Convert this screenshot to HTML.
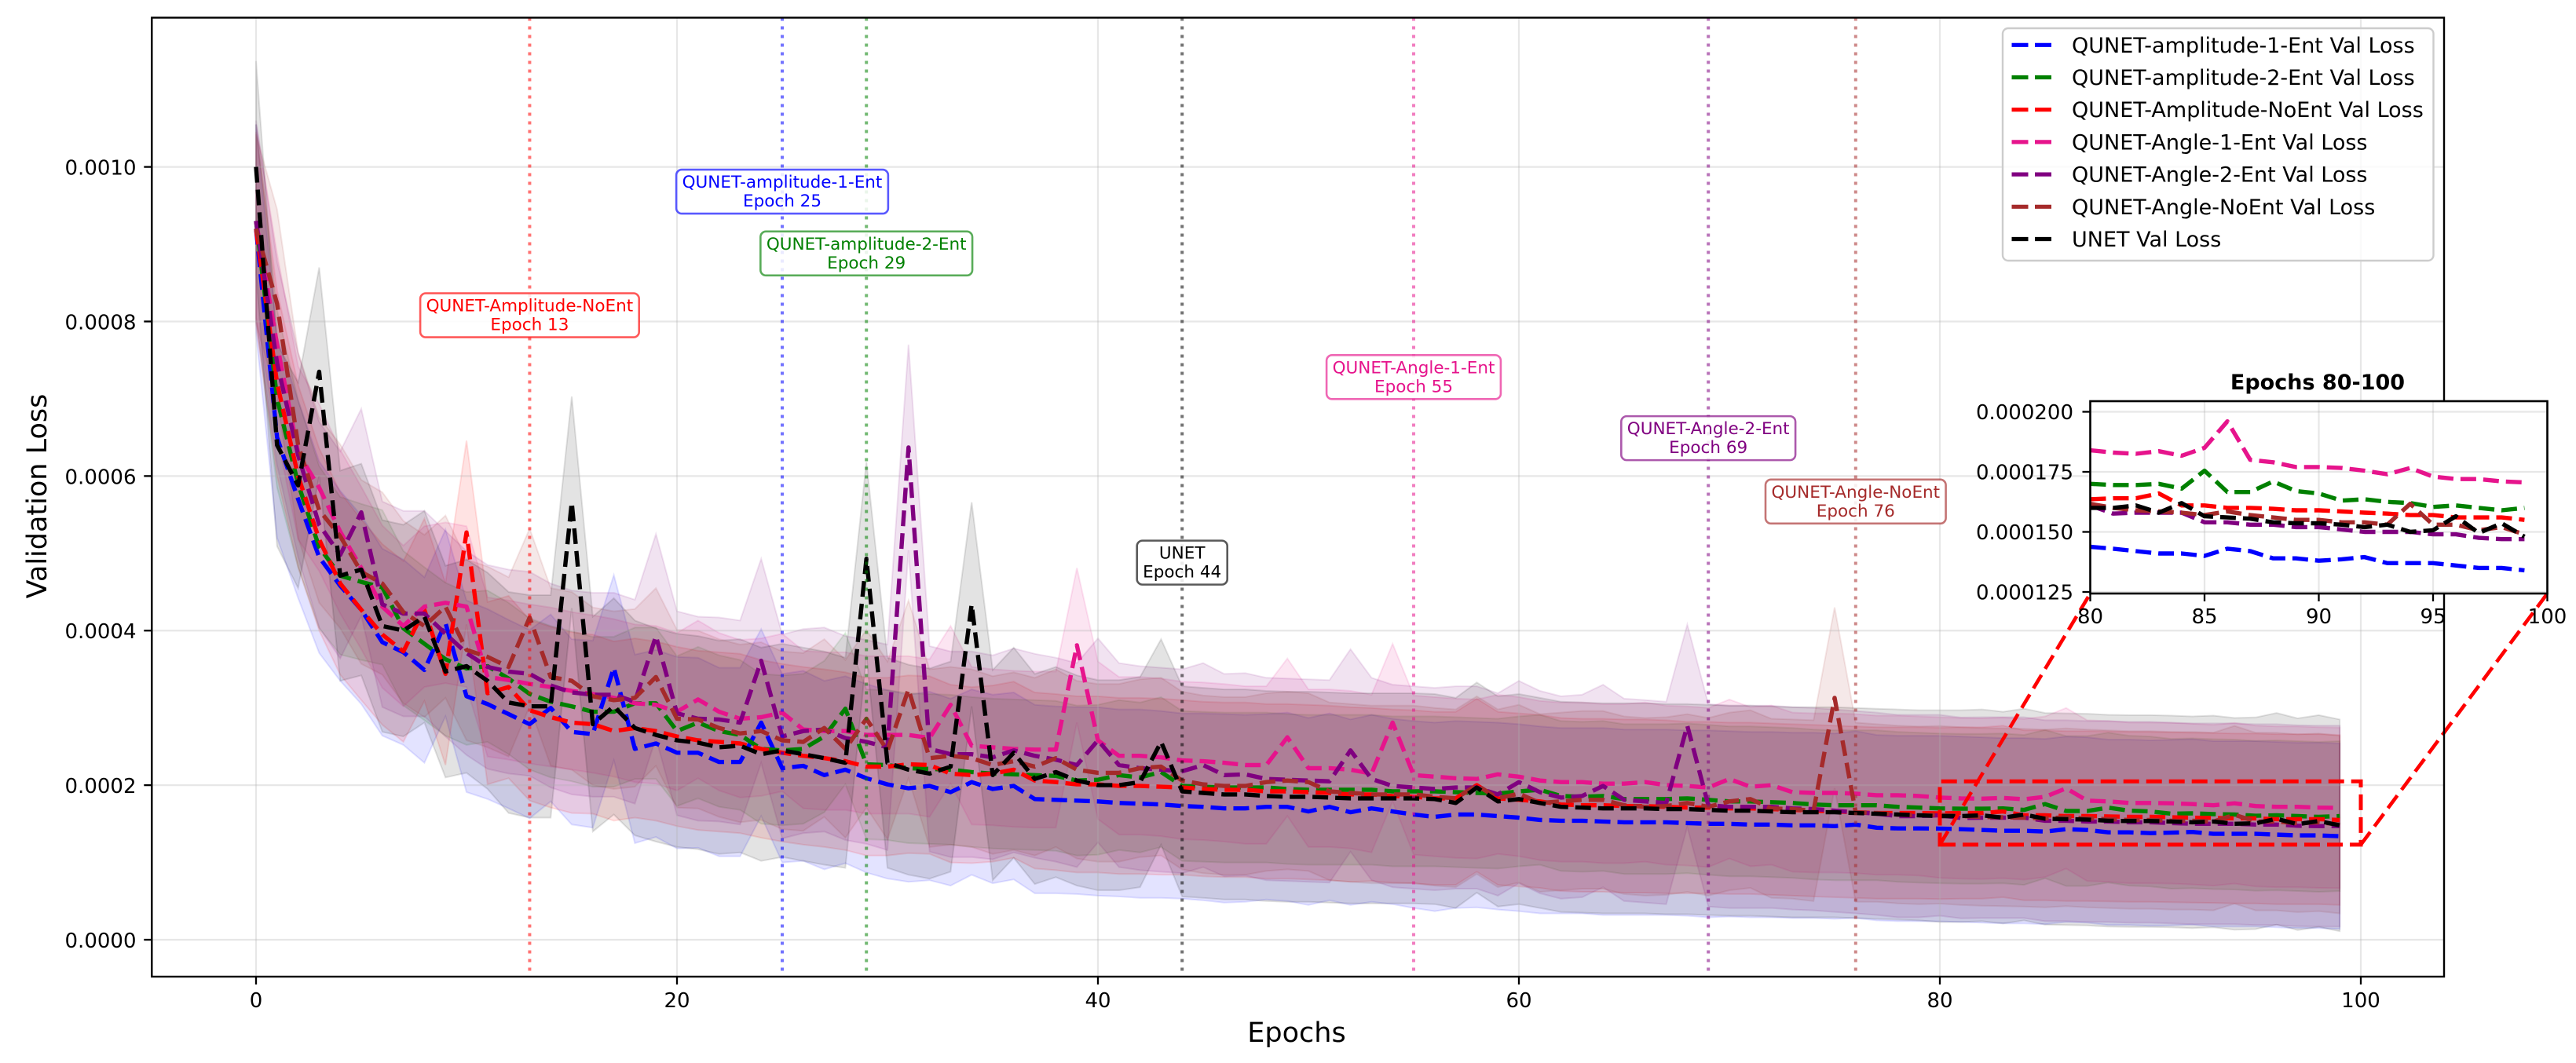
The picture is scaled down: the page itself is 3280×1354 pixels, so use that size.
<!DOCTYPE html>
<html lang="en">
<head>
<meta charset="utf-8">
<title>Validation Loss Chart</title>
<style>
html,body{margin:0;padding:0;background:#fff;width:3280px;height:1354px;overflow:hidden}
svg{display:block}
text{font-family:"DejaVu Sans","Liberation Sans",sans-serif}
</style>
</head>
<body>
<svg id="chart" xmlns="http://www.w3.org/2000/svg" width="3280" height="1354" viewBox="0 0 3280 1354"></svg>
<script>
/* All loss values are in units of 1e-6 */
const meanBlue = [
920,650,570,495,458,427,385,372,349,410,
315,305,292,279,300,269,266,352,247,254,
242,242,230,230,281,222,225,213,220,209,
201,196,199,191,204,195,199,182,181,180,
179,177,176,175,173,172,170,170,172,172,
166,172,165,170,166,162,159,162,162,160,
158,155,154,154,153,152,152,152,151,150,
150,149,149,148,148,147,149,145,144,144,
143.8,143,142,141,141,140,143,142,139,139,
138,138.6,139.5,137,137,137,136,135,135,134];
const meanGreen = [
930,700,590,508,471,463,456,403,383,363,
351,354,338,318,308,302,295,295,306,306,
270,281,270,265,247,245,247,263,299,227,
226,222,221,220,217,215,214,213,212,206,
207,213,210,217,199,198,197,197,197,195,
194,194,194,194,192,192,192,191,190,189,
192,194,186,185,186,182,182,182,183,181,
179,179,178,177,175,174,174,174,172,171,
170,169.5,169.5,170,168,175.5,166.6,166.6,171,167,
166,163,163.6,162.5,162,160.4,161,160,159,160];
const meanRed = [
920,720,600,518,461,427,395,373,427,344,
527,319,327,297,288,281,279,270,274,270,
263,258,256,254,247,242,238,235,231,224,
224,227,226,215,213,215,220,206,204,201,
201,199,199,198,197,195,194,194,192,192,
191,190,188,188,186,185,183,183,200,183,
181,179,175,174,174,173,173,172,171,171,
170,170,169,168,167,166,165,164,164,164,
163.6,164,164,166,161,161,160,160,159.6,159,
159,158.5,158,157.6,157,157,156,156,156,155];
const meanPink = [
930,770,630,585,528,481,431,406,431,436,
431,340,336,331,327,322,318,313,306,304,
295,311,295,286,288,294,272,270,270,265,
265,265,261,304,251,249,247,246,246,381,
258,238,238,236,232,231,229,226,226,262,
222,222,220,215,281,213,211,209,208,214,
211,206,204,204,202,202,204,200,199,197,
208,198,200,191,190,190,189,187,187,186,
184,183,182.5,183.6,181.7,185,196,180,179,177,
177,176.6,175.5,174,176.6,173,172,172,171,170.6];
const meanPurple = [
930,746,627,537,498,553,434,422,422,396,
371,353,347,344,329,320,317,317,308,393,
293,286,285,281,361,263,270,272,261,256,
249,637,247,240,240,236,245,238,233,226,
258,226,222,220,218,226,213,214,208,207,
206,205,245,208,199,197,195,197,197,188,
204,191,184,186,199,181,179,177,277,174,
172,172,172,170,169,167,165,163,160,160,
161,157.6,158,158,158,154,154,153,153,152,
152,151,150,150,150,149,149,147.5,147,147];
const meanBrown = [
920,823,640,556,522,476,461,424,406,431,
375,366,353,417,340,335,315,310,313,340,
286,285,274,267,270,258,256,274,247,286,
245,324,235,238,235,226,231,224,235,220,
216,216,222,224,206,201,199,199,204,206,
204,192,190,188,188,188,185,183,200,183,
189,177,179,181,181,174,172,173,177,172,
179,182,170,169,167,313,165,164,162,161,
161.7,160,159,158.5,158,157,158.5,157,156,155,
155,154,154,153,161.7,153,153,150.7,152,149];
const meanBlack = [
1000,640,588,735,471,479,406,400,418,347,
354,335,307,302,302,566,279,302,274,265,
258,255,249,251,240,245,240,235,229,493,
229,220,215,224,434,213,242,208,217,206,
200,200,204,256,192,190,188,188,186,185,
185,184,183,183,183,183,182,177,197,179,
182,177,172,171,170,170,170,169,169,168,
167,167,166,165,165,165,164,163,162,161,
160,160,161,158,162,156.5,156,155.5,154,153.6,
153.6,153,152,153,150,150.7,156.5,149.5,153.6,148];

const stdBlue = [
135,130,128,124,123,122,121,120,120,121,
124,123,122,122,121,120,121,120,122,121,
124,123,122,122,121,122,123,122,121,122,
122,121,122,121,120,122,121,122,121,121,
122,121,122,121,120,121,122,121,120,122,
121,121,120,121,120,121,122,121,120,121,
121,121,120,120,121,120,120,120,120,121,
120,120,120,120,120,120,121,120,120,120,
120,120,120,120,120,120,120,120,120,120,
120,120,120,120,120,120,120,120,120,120];
const stdGreen = [
125,115,108,105,102,101,100,100,99,99,
99,98,98,98,98,97,97,97,98,98,
97,98,98,97,97,97,97,98,98,97,
97,97,97,97,97,97,97,97,97,97,
97,97,97,97,97,97,97,97,97,97,
97,97,97,97,97,97,97,97,97,97,
97,97,97,97,97,97,97,97,97,97,
97,97,97,97,97,97,97,97,97,97,
97,97,97,97,97,96,97,97,97,97,
97,97,97,97,97,97,97,97,97,97];
const stdRed = [
125,120,118,118,118,117,117,117,118,118,
119,118,118,117,117,117,116,116,116,116,
116,116,116,116,115,115,115,115,115,115,
115,115,115,115,114,114,114,114,114,114,
114,114,114,114,113,113,113,113,113,113,
113,113,113,112,112,112,112,112,112,112,
112,112,112,112,112,112,112,112,111,111,
111,111,111,111,111,111,111,111,111,111,
111,111,111,111,110,110,110,110,110,110,
110,110,110,110,110,110,110,110,110,110];
const stdPink = [
125,118,112,108,106,105,105,104,104,104,
104,103,103,103,103,102,102,102,102,102,
102,102,102,102,102,102,102,102,102,102,
102,102,102,102,102,101,101,101,101,100,
102,102,102,102,102,102,102,102,102,102,
102,102,102,102,102,103,103,103,103,103,
103,103,103,103,103,103,103,103,103,103,
103,103,103,103,103,103,103,103,103,103,
104,104,104,104,104,104,104,104,104,104,
104,104,104,104,104,104,104,104,104,104];
const stdPurple = [
130,132,132,133,134,134,133,133,133,133,
132,132,132,132,132,132,132,132,132,132,
132,132,132,132,132,132,132,132,132,132,
133,133,133,133,133,132,132,132,132,132,
132,132,132,132,132,132,131,131,131,131,
131,131,131,131,131,131,131,131,131,131,
131,131,131,131,131,131,131,131,131,131,
131,131,131,131,131,131,131,131,131,131,
130,130,130,130,130,130,130,130,130,130,
130,130,130,130,130,130,130,130,130,130];
const stdBrown = [
122,122,120,120,119,119,118,118,118,118,
117,117,116,115,115,115,115,115,115,115,
115,115,115,115,115,115,115,115,115,115,
115,115,115,115,115,115,115,115,115,115,
115,115,115,115,115,115,115,115,115,115,
115,115,115,115,115,115,115,115,115,115,
115,115,115,115,115,115,115,115,115,115,
115,115,116,116,117,117,116,115,115,115,
115,115,115,115,115,115,115,115,115,115,
115,115,115,115,115,115,115,115,115,115];
const stdBlack = [
137,131,133,135,136,137,137,137,137,137,
138,140,143,144,144,137,139,140,139,138,
138,138,138,138,138,138,138,138,136,125,
136,136,136,136,132,136,136,136,136,136,
136,136,136,133,136,136,136,136,136,136,
136,136,136,136,136,136,136,136,136,136,
136,136,136,136,136,136,136,136,136,136,
136,136,136,136,136,136,136,136,136,136,
137,137,137,137,137,137,137,137,137,137,
137,137,137,137,137,137,137,137,137,137];

const seriesNames = ["QUNET-amplitude-1-Ent","QUNET-amplitude-2-Ent","QUNET-Amplitude-NoEnt","QUNET-Angle-1-Ent","QUNET-Angle-2-Ent","QUNET-Angle-NoEnt","UNET"];
const seriesMeans = [meanBlue,meanGreen,meanRed,meanPink,meanPurple,meanBrown,meanBlack];
const seriesStds = [stdBlue,stdGreen,stdRed,stdPink,stdPurple,stdBrown,stdBlack];
const seriesColors = ["#0000ff","#008000","#ff0000","#e6148c","#800080","#a52a2a","#000000"];
const seriesKeys = ["amplitude-1-ent","amplitude-2-ent","amplitude-noent","angle-1-ent","angle-2-ent","angle-noent","unet"];
const bestEpochs = [25,29,13,55,69,76,44];
const annotationLoss = [968,888,808,728,649,567,488];

const xTicks = [0,20,40,60,80,100];
const yTicks = [0,200,400,600,800,1000];
const yTickLabels = ["0.0000","0.0002","0.0004","0.0006","0.0008","0.0010"];
const insetXTicks = [80,85,90,95,100];
const insetYTicks = [125,150,175,200];
const insetYTickLabels = ["0.000125","0.000150","0.000175","0.000200"];
const zoomEpochs = [80,100];
const zoomLoss = [123,205];

const NS = "http://www.w3.org/2000/svg";
const svg = document.getElementById("chart");
const P = {l:193.3,r:3112,t:22.5,b:1244};
const I = {l:2661.5,r:3243.5,t:511,b:756};
function xScale(e){return 326+e*26.8;}
function yScale(v){return 1197-v*0.9844;}
function insetX(e){return I.l+(e-80)*29.1;}
function insetY(v){return 524.5+(200-v)*3.06;}
function el(tag,attrs,parent){
  const n=document.createElementNS(NS,tag);
  for(const k in attrs){n.setAttribute(k,attrs[k]);}
  (parent||svg).appendChild(n);
  return n;
}
function tx(str,x,y,size,anchor,fill,parent,extra){
  const n=el("text",Object.assign({x:x,y:y,"font-size":size,"text-anchor":anchor,fill:fill},extra||{}),parent);
  n.textContent=str;
  return n;
}

/* plot background */
const plotBg=el("rect",{x:P.l,y:P.t,width:P.r-P.l,height:P.b-P.t,fill:"#fff"});



/* std bands */
seriesMeans.forEach(function(m,s){
  const std=seriesStds[s];
  const up=m.map(function(v,i){return xScale(i).toFixed(1)+","+yScale(v+std[i]).toFixed(1);});
  const lo=m.map(function(v,i){return xScale(i).toFixed(1)+","+yScale(v-std[i]).toFixed(1);}).reverse();
  const band=el("polygon",{points:up.concat(lo).join(" "),fill:seriesColors[s],"fill-opacity":0.11,stroke:seriesColors[s],"stroke-opacity":0.11,"stroke-width":2});
  
  
});

/* grid */
xTicks.forEach(function(t){
  const g=el("line",{x1:xScale(t),x2:xScale(t),y1:P.t,y2:P.b,stroke:"#b0b0b0","stroke-opacity":0.3,"stroke-width":2.2});
  
  
});
yTicks.forEach(function(t){
  const g=el("line",{x1:P.l,x2:P.r,y1:yScale(t),y2:yScale(t),stroke:"#b0b0b0","stroke-opacity":0.3,"stroke-width":2.2});
  
  
});

/* mean lines */
seriesMeans.forEach(function(m,s){
  const pts=m.map(function(v,i){return xScale(i).toFixed(1)+","+yScale(v).toFixed(1);}).join(" ");
  const line=el("polyline",{points:pts,fill:"none",stroke:seriesColors[s],"stroke-width":5.4,"stroke-dasharray":"20 9","stroke-linejoin":"round"});
  
  
});

/* best epoch vertical lines */
bestEpochs.forEach(function(e,s){
  const v=el("line",{x1:xScale(e),x2:xScale(e),y1:P.t,y2:P.b,stroke:seriesColors[s],"stroke-opacity":0.55,"stroke-width":4,"stroke-dasharray":"4 7"});
  
  
});

/* zoom rectangle and connectors */
const zx0=xScale(zoomEpochs[0]), zx1=xScale(zoomEpochs[1]), zyLo=yScale(zoomLoss[0]), zyHi=yScale(zoomLoss[1]);
const zr=el("path",{d:"M"+zx0+" "+zyLo+"L"+zx1+" "+zyLo+"L"+zx1+" "+zyHi+"L"+zx0+" "+zyHi+"Z",fill:"none",stroke:"#ff0000","stroke-width":5,"stroke-dasharray":"20 9"});


const c1=el("line",{x1:zx0,y1:zyLo,x2:I.l,y2:I.b,stroke:"#ff0000","stroke-width":4.6,"stroke-dasharray":"20 9"});


const c2=el("line",{x1:zx1,y1:zyLo,x2:I.r,y2:I.b,stroke:"#ff0000","stroke-width":4.6,"stroke-dasharray":"20 9"});



/* spines + main ticks */
const frame=el("rect",{x:P.l,y:P.t,width:P.r-P.l,height:P.b-P.t,fill:"none",stroke:"#000","stroke-width":2.4});


xTicks.forEach(function(t){
  const k=el("line",{x1:xScale(t),x2:xScale(t),y1:P.b,y2:P.b+10,stroke:"#000","stroke-width":2.3});
  
  
  const l=tx(String(t),xScale(t),1283,26,"middle","#000");
  
  
});
yTicks.forEach(function(t,i){
  const k=el("line",{x1:P.l-10,x2:P.l,y1:yScale(t),y2:yScale(t),stroke:"#000","stroke-width":2.3});
  
  
  const l=tx(yTickLabels[i],173.5,yScale(t)+10,26,"end","#000");
  
  
});
const xTitle=tx("Epochs",1651,1327,35,"middle","#000");


const yTitle=tx("Validation Loss",0,0,35,"middle","#000",svg,{transform:"translate(59,632) rotate(-90)"});



/* annotations */
bestEpochs.forEach(function(e,s){
  const cx=xScale(e), cy=yScale(annotationLoss[s]);
  const g=el("g",{});
  
  
  const box=el("rect",{y:cy-28,height:56,rx:7,ry:7,fill:"#fff","fill-opacity":0.85,stroke:seriesColors[s],"stroke-opacity":0.65,"stroke-width":2.6},g);
  
  
  const t1=tx(seriesNames[s],cx,cy-5,21.5,"middle",seriesColors[s],g);
  
  
  const t2=tx("Epoch "+e,cx,cy+19,21.5,"middle",seriesColors[s],g);
  
  
  const w=Math.max(t1.getComputedTextLength(),t2.getComputedTextLength())+15;
  box.setAttribute("x",cx-w/2);
  box.setAttribute("width",w);
});

/* legend */
const lg=el("g",{});


const lf=el("rect",{x:2550,y:36,width:548.5,height:296,rx:7,ry:7,fill:"#fff","fill-opacity":0.8,stroke:"#cccccc","stroke-width":2.4},lg);


seriesNames.forEach(function(n,s){
  const y=57.3+s*41.2;
  const h=el("line",{x1:2561.5,x2:2612,y1:y,y2:y,stroke:seriesColors[s],"stroke-width":5.2,"stroke-dasharray":"21 8.5"},lg);
  
  
  const t=tx(n+" Val Loss",2638,y+9.5,27,"start","#000",lg);
  
  
});

/* inset */
const ig=el("g",{});


const defs=el("defs",{},ig);
const cp=el("clipPath",{id:"inset-clip"},defs);
el("rect",{x:I.l,y:I.t,width:I.r-I.l,height:I.b-I.t},cp);
const ib=el("rect",{x:I.l,y:I.t,width:I.r-I.l,height:I.b-I.t,fill:"#fff"},ig);


insetXTicks.forEach(function(t){
  const g=el("line",{x1:insetX(t),x2:insetX(t),y1:I.t,y2:I.b,stroke:"#b0b0b0","stroke-opacity":0.3,"stroke-width":2.2},ig);
  
  
  const k=el("line",{x1:insetX(t),x2:insetX(t),y1:I.b,y2:I.b+10,stroke:"#000","stroke-width":2.3},ig);
  
  
  const l=tx(String(t),insetX(t),794,26,"middle","#000",ig);
  
  
});
insetYTicks.forEach(function(t,i){
  const g=el("line",{x1:I.l,x2:I.r,y1:insetY(t),y2:insetY(t),stroke:"#b0b0b0","stroke-opacity":0.3,"stroke-width":2.2},ig);
  
  
  const k=el("line",{x1:I.l-10,x2:I.l,y1:insetY(t),y2:insetY(t),stroke:"#000","stroke-width":2.3},ig);
  
  
  const l=tx(insetYTickLabels[i],2640,insetY(t)+9.5,26,"end","#000",ig);
  
  
});
seriesMeans.forEach(function(m,s){
  const pts=[];
  m.forEach(function(v,i){ if(i>=80){pts.push(insetX(i).toFixed(1)+","+insetY(v).toFixed(1));} });
  const line=el("polyline",{points:pts.join(" "),fill:"none",stroke:seriesColors[s],"stroke-width":5.4,"stroke-dasharray":"20 9","stroke-linejoin":"round","clip-path":"url(#inset-clip)"},ig);
  
  
});
const iframe=el("rect",{x:I.l,y:I.t,width:I.r-I.l,height:I.b-I.t,fill:"none",stroke:"#000","stroke-width":2.6},ig);


const ititle=tx("Epochs 80-100",2951,496,27,"middle","#000",ig,{"font-weight":"bold"});


</script>
</body>
</html>
